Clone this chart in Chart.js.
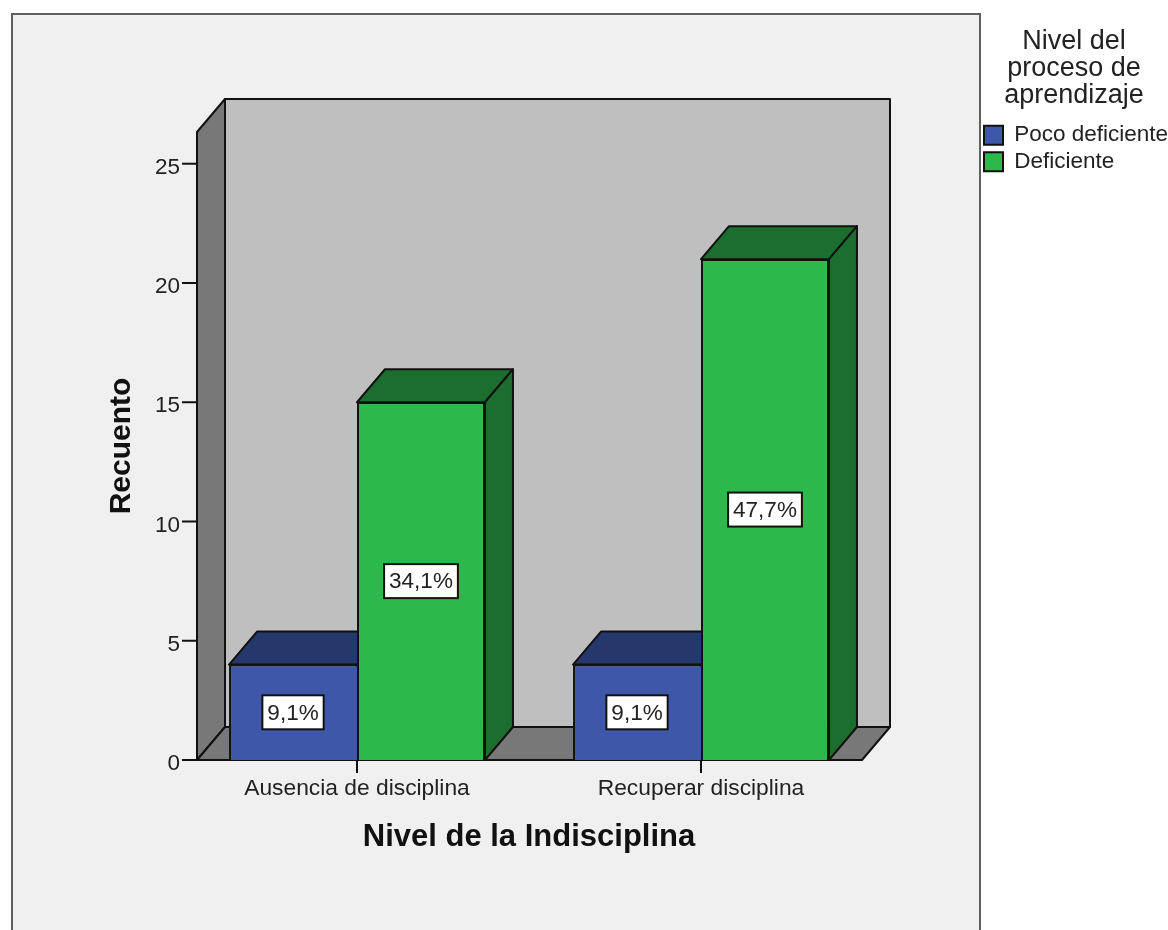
<!DOCTYPE html>
<html lang="es">
<head>
<meta charset="utf-8">
<title>Nivel de la Indisciplina</title>
<style>html,body{margin:0;padding:0;background:#fff;overflow:hidden}canvas{display:block}</style>
<script src="https://cdn.jsdelivr.net/npm/chart.js@4"></script>
</head>
<body>
<canvas id="c" width="1168" height="930"></canvas>
<script>
const categories = ['Ausencia de disciplina', 'Recuperar disciplina'];
const seriesNames = ['Poco deficiente', 'Deficiente'];
const pocoDeficiente = [4, 4];
const deficiente = [15, 21];
const pocoLabels = ['9,1%', '9,1%'];
const deficienteLabels = ['34,1%', '47,7%'];
const legendTitle = ['Nivel del', 'proceso de', 'aprendizaje'];
const axisMax = 26.33;

const FONT = '"Liberation Sans", Arial, sans-serif';
const INK = '#111111';
const TEXT = '#222222';
const DEPTH_X = 28, DEPTH_Y = 33, INSET_L = 12, INSET_R = 11;
const shades = [
  {front: '#3E57A8', dark: '#25376B'},
  {front: '#2DB84B', dark: '#1C6E2E'}
];

function poly(ctx, pts, fill) {
  ctx.beginPath();
  pts.forEach((p, i) => i ? ctx.lineTo(p[0], p[1]) : ctx.moveTo(p[0], p[1]));
  ctx.closePath();
  if (fill) { ctx.fillStyle = fill; ctx.fill(); }
  ctx.stroke();
}

const frame3d = {
  id: 'frame3d',
  beforeDraw(chart) {
    const ctx = chart.ctx;
    ctx.save();
    ctx.fillStyle = '#F0F0F0';
    ctx.strokeStyle = '#606060';
    ctx.lineWidth = 2;
    ctx.fillRect(12, 14, 968, 940);
    ctx.strokeRect(12, 14, 968, 940);
    ctx.restore();
  },
  beforeDatasetsDraw(chart) {
    const ctx = chart.ctx, xs = chart.scales.x, ys = chart.scales.y;
    const L = xs.left + INSET_L, R = xs.right - INSET_R;
    const B = ys.getPixelForValue(0), T = ys.getPixelForValue(axisMax);
    ctx.save();
    ctx.strokeStyle = INK;
    ctx.lineWidth = 2;
    ctx.lineJoin = 'round';
    poly(ctx, [[L + DEPTH_X, T - DEPTH_Y], [R + DEPTH_X, T - DEPTH_Y], [R + DEPTH_X, B - DEPTH_Y], [L + DEPTH_X, B - DEPTH_Y]], '#BFBFBF');
    poly(ctx, [[L, T], [L + DEPTH_X, T - DEPTH_Y], [L + DEPTH_X, B - DEPTH_Y], [L, B]], '#787878');
    poly(ctx, [[L, B], [L + DEPTH_X, B - DEPTH_Y], [R + DEPTH_X, B - DEPTH_Y], [R, B]], '#787878');
    ys.ticks.forEach(t => {
      const y = ys.getPixelForValue(t.value);
      ctx.beginPath(); ctx.moveTo(L - 15, y); ctx.lineTo(L, y); ctx.stroke();
    });
    xs.ticks.forEach((t, i) => {
      const x = xs.getPixelForTick(i);
      ctx.beginPath(); ctx.moveTo(x, B); ctx.lineTo(x, B + 13); ctx.stroke();
    });
    chart.data.datasets.forEach((ds, d) => {
      chart.getDatasetMeta(d).data.forEach(bar => {
        const {x, y, base, width} = bar.getProps(['x', 'y', 'base', 'width'], true);
        const l = x - width / 2, r = x + width / 2;
        poly(ctx, [[l, y], [l + DEPTH_X, y - DEPTH_Y], [r + DEPTH_X, y - DEPTH_Y], [r, y]], shades[d].dark);
        poly(ctx, [[r, y], [r + DEPTH_X, y - DEPTH_Y], [r + DEPTH_X, base - DEPTH_Y], [r, base]], shades[d].dark);
      });
    });
    ctx.restore();
  },
  afterDatasetsDraw(chart) {
    const ctx = chart.ctx;
    ctx.save();
    ctx.font = '22.5px ' + FONT;
    ctx.textAlign = 'center';
    ctx.textBaseline = 'middle';
    chart.data.datasets.forEach((ds, d) => {
      chart.getDatasetMeta(d).data.forEach((bar, i) => {
        const {x, y, base} = bar.getProps(['x', 'y', 'base'], true);
        const text = ds.pctLabels[i];
        const w = ctx.measureText(text).width + 10, h = 34, cy = (y + base) / 2;
        ctx.fillStyle = '#FFFFFF';
        ctx.strokeStyle = INK;
        ctx.lineWidth = 2;
        ctx.fillRect(x - w / 2, cy - h / 2, w, h);
        ctx.strokeRect(x - w / 2, cy - h / 2, w, h);
        ctx.fillStyle = TEXT;
        ctx.fillText(text, x, cy + 1);
      });
    });
    ctx.restore();
  }
};

const hiddenScale = {
  display: true,
  grid: {display: false, drawTicks: false},
  border: {display: false},
  ticks: {display: false}
};

new Chart(document.getElementById('c'), {
  type: 'bar',
  data: {
    labels: categories,
    datasets: [
      {label: seriesNames[0], data: pocoDeficiente, pctLabels: pocoLabels, backgroundColor: shades[0].front, borderColor: INK, borderWidth: {top: 2, right: 0, bottom: 2, left: 2}},
      {label: seriesNames[1], data: deficiente, pctLabels: deficienteLabels, backgroundColor: shades[1].front, borderColor: INK, borderWidth: 2}
    ]
  },
  options: {
    responsive: false,
    animation: false,
    layout: {padding: {top: 5, left: 104, right: 0, bottom: 74}},
    datasets: {bar: {categoryPercentage: 0.744, barPercentage: 1}},
    plugins: {
      tooltip: {enabled: false},
      legend: {
        position: 'right',
        align: 'start',
        maxWidth: 188,
        onClick: null,
        title: {
          display: true,
          text: legendTitle,
          color: TEXT,
          font: {family: FONT, size: 27, lineHeight: 1},
          padding: {top: 23, bottom: 65}
        },
        labels: {
          color: TEXT,
          font: {family: FONT, size: 22.5},
          boxWidth: 19,
          boxHeight: 19,
          padding: 4,
          generateLabels(chart) {
            return chart.data.datasets.map((ds, i) => ({
              text: ds.label, fillStyle: ds.backgroundColor, strokeStyle: INK,
              lineWidth: 2, datasetIndex: i, fontColor: TEXT
            }));
          }
        }
      }
    },
    scales: {
      x: {
        grid: {display: false, drawTicks: false},
        border: {display: false},
        ticks: {color: TEXT, font: {family: FONT, size: 22.8}, padding: 15, maxRotation: 0},
        title: {display: true, text: 'Nivel de la Indisciplina', color: INK, font: {family: FONT, size: 31, weight: 'bold'}, padding: {top: 0, bottom: 0}},
        afterFit(s) { s.height = 96; }
      },
      y: {
        min: 0,
        max: axisMax,
        grid: {display: false, drawTicks: false},
        border: {display: false},
        ticks: {color: TEXT, font: {family: FONT, size: 22.5}, stepSize: 5, padding: 5, includeBounds: false, labelOffset: 4},
        title: {display: true, text: 'Recuento', color: INK, font: {family: FONT, size: 30, weight: 'bold'}, padding: {top: 0, bottom: 0}},
        afterFit(s) { s.width = 81; }
      },
      gapRight: Object.assign({type: 'linear', axis: 'y', position: 'right', afterFit(s) { s.width = 107; }}, hiddenScale),
      gapTop: Object.assign({type: 'linear', axis: 'x', position: 'top', afterFit(s) { s.height = 127; }}, hiddenScale)
    }
  },
  plugins: [frame3d]
});
</script>
</body>
</html>
